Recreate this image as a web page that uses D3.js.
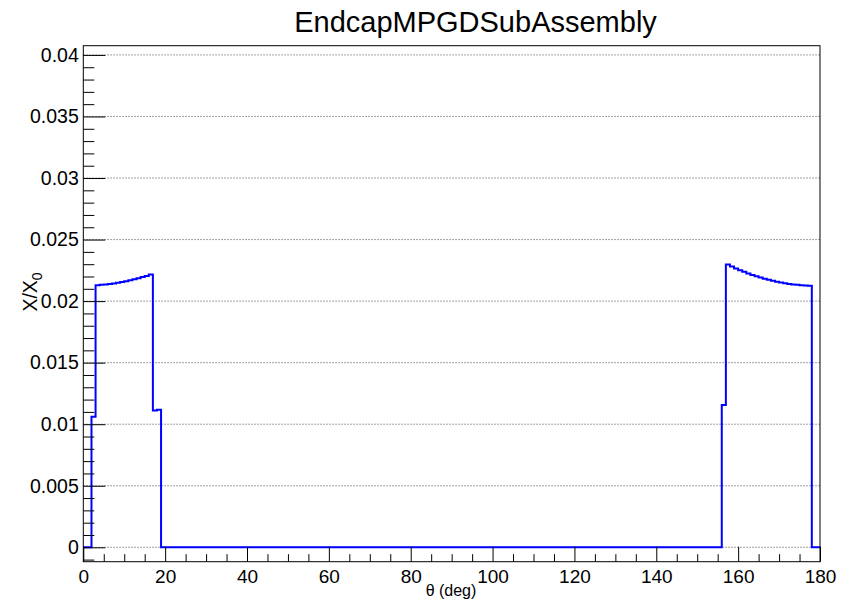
<!DOCTYPE html>
<html><head><meta charset="utf-8">
<script src="https://cdn.jsdelivr.net/npm/d3@7"></script>
<style>body{margin:0;background:#fff}svg{display:block}text{font-family:"Liberation Sans",Arial,Helvetica,sans-serif}</style>
</head><body><svg id="c" width="855" height="605"></svg>
<script>
// Histogram: 180 bins of 1 degree from 0 to 180
const binEdgeLow = 0, binEdgeHigh = 180;
const values = [
  0,0,0.01061,0.02129,0.02132,0.02135,0.02139,0.02143,0.02149,0.02155,0.02161,0.02169,0.02177,0.02185,0.02195,0.02205,0.02217,0.01112,0.01118,0,
  0,0,0,0,0,0,0,0,0,0,0,0,0,0,0,0,0,0,0,0,
  0,0,0,0,0,0,0,0,0,0,0,0,0,0,0,0,0,0,0,0,
  0,0,0,0,0,0,0,0,0,0,0,0,0,0,0,0,0,0,0,0,
  0,0,0,0,0,0,0,0,0,0,0,0,0,0,0,0,0,0,0,0,
  0,0,0,0,0,0,0,0,0,0,0,0,0,0,0,0,0,0,0,0,
  0,0,0,0,0,0,0,0,0,0,0,0,0,0,0,0,0,0,0,0,
  0,0,0,0,0,0,0,0,0,0,0,0,0,0,0,0,0.01156,0.02297,0.02281,0.02265,
  0.02251,0.02238,0.02225,0.02213,0.02202,0.02192,0.02182,0.02174,0.02165,0.02158,0.02151,0.02146,0.02140,0.02136,0.02132,0.02129,0.02126,0.02124,0,0
];
const xMajorTicks = [0,20,40,60,80,100,120,140,160,180];
const xMinorTicks = [5,10,15,25,30,35,45,50,55,65,70,75,85,90,95,105,110,115,125,130,135,145,150,155,165,170,175];
const yMajorTicks = [0,0.005,0.01,0.015,0.02,0.025,0.03,0.035,0.04];
const yTickLabels = ["0","0.005","0.01","0.015","0.02","0.025","0.03","0.035","0.04"];
const yMinorTicks = [-0.001,0.001,0.002,0.003,0.004,0.006,0.007,0.008,0.009,0.011,0.012,0.013,0.014,0.016,0.017,0.018,0.019,0.021,0.022,0.023,0.024,0.026,0.027,0.028,0.029,0.031,0.032,0.033,0.034,0.036,0.037,0.038,0.039];
const title = "EndcapMPGDSubAssembly";
const xTitle = "θ (deg)";

const L = 83.3, R = 820, T = 45.7, B = 561.7;
const x = d3.scaleLinear().domain([binEdgeLow, binEdgeHigh]).range([L, R]);
const y = d3.scaleLinear().domain([-0.00117, 0.04075]).range([B, T]);
const svg = d3.select("#c");
const font = "'Liberation Sans',Arial,Helvetica,sans-serif";

// grid
svg.append("g").selectAll("line").data(yMajorTicks).join("line")
  .attr("x1", L).attr("x2", R).attr("y1", d => y(d)).attr("y2", d => y(d))
  .attr("stroke", "#666").attr("stroke-width", 0.8).attr("stroke-dasharray", "1.5,1.5");

// histogram step line
const nb = values.length;
const bw = (binEdgeHigh - binEdgeLow) / nb;
const pts = [];
values.forEach((v, i) => { pts.push([binEdgeLow + i * bw, v]); pts.push([binEdgeLow + (i + 1) * bw, v]); });
svg.append("path").attr("d", d3.line().x(d => x(d[0])).y(d => y(d[1]))(pts))
  .attr("fill", "none").attr("stroke", "#0000ff").attr("stroke-width", 2);

// frame
svg.append("rect").attr("x", L).attr("y", T).attr("width", R - L).attr("height", B - T)
  .attr("fill", "none").attr("stroke", "#000").attr("stroke-width", 1);

// y axis
const yAx = svg.append("g").attr("transform", `translate(${L},0)`)
  .call(d3.axisLeft(y).tickValues(yMajorTicks).tickSizeInner(-22).tickSizeOuter(0).tickPadding(4.5)
    .tickFormat((d, i) => yTickLabels[i]));
yAx.select(".domain").remove();
yAx.selectAll("line").attr("stroke", "#000");
yAx.selectAll("text").attr("font-size", 19.5).attr("font-family", font).attr("fill", "#000");
const yMin = svg.append("g").attr("transform", `translate(${L},0)`)
  .call(d3.axisLeft(y).tickValues(yMinorTicks).tickSizeInner(-11).tickSizeOuter(0).tickFormat(""));
yMin.select(".domain").remove();
yMin.selectAll("line").attr("stroke", "#000");

// x axis
const xAx = svg.append("g").attr("transform", `translate(0,${B})`)
  .call(d3.axisBottom(x).tickValues(xMajorTicks).tickSizeInner(-15).tickSizeOuter(0).tickPadding(8).tickFormat(d3.format("d")));
xAx.select(".domain").remove();
xAx.selectAll("line").attr("stroke", "#000");
xAx.selectAll("text").attr("font-size", 19).attr("font-family", font).attr("fill", "#000");
const xMin = svg.append("g").attr("transform", `translate(0,${B})`)
  .call(d3.axisBottom(x).tickValues(xMinorTicks).tickSizeInner(-7.5).tickSizeOuter(0).tickFormat(""));
xMin.select(".domain").remove();
xMin.selectAll("line").attr("stroke", "#000");

// titles
svg.append("text").attr("x", 475.5).attr("y", 31.5).attr("text-anchor", "middle")
  .attr("font-size", 29).attr("fill", "#000").text(title);
svg.append("text").attr("x", 451).attr("y", 596).attr("text-anchor", "middle")
  .attr("font-size", 16).attr("fill", "#000").text(xTitle);
const yt = svg.append("text").attr("transform", "translate(37,292) rotate(-90)")
  .attr("text-anchor", "middle").attr("font-size", 19.5).attr("fill", "#000");
yt.append("tspan").text("X/X");
yt.append("tspan").attr("font-size", 14).attr("dy", 5).text("0");
</script></body></html>
